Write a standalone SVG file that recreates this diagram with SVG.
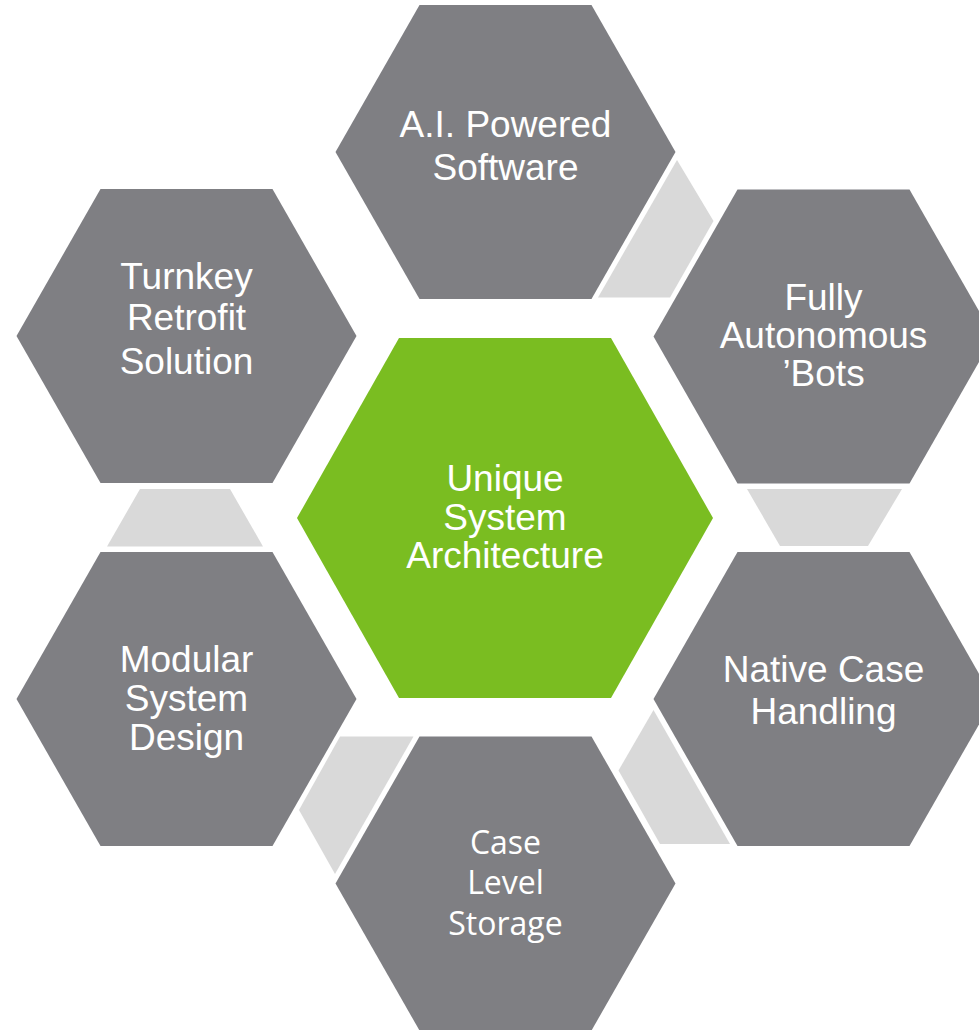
<svg xmlns="http://www.w3.org/2000/svg" width="979" height="1030" viewBox="0 0 979 1030">
<style>
.hex{fill:#7F7F83}
.core{fill:#7ABD21}
.conn{fill:#D9D9D9}
.t{font-family:"Liberation Sans",Arial,sans-serif;font-size:37px;fill:#FFFFFF;text-anchor:middle}
.c{font-family:"Open Sans","Noto Sans",sans-serif;font-size:32px;fill:#FFFFFF;text-anchor:middle}
</style>
<defs>
<polygon id="hexS" points="-170,0 -86,-147 86,-147 170,0 86,147 -86,147"/>
</defs>
<rect width="979" height="1030" fill="#FFFFFF"/>
<g id="connectors">
<polygon class="conn" points="677,160 713.5,221 670,297.5 598,297.5"/>
<polygon class="conn" points="747,489 902,489 868,546 780,546"/>
<polygon class="conn" points="653.5,710 618.5,770.5 660,844 730,844"/>
<polygon class="conn" points="340,736.5 413.5,736.5 335,874 299,810"/>
<polygon class="conn" points="140,489 230,489 263,546.5 107,546.5"/>
</g>
<g id="node-ai" transform="translate(505.5,152)">
<use href="#hexS" class="hex"/>
<text class="t" y="-15.5">A.I. Powered</text>
<text class="t" y="28">Software</text>
</g>
<g id="node-bots" transform="translate(823.5,336.5)">
<use href="#hexS" class="hex"/>
<text class="t" y="-26.5">Fully</text>
<text class="t" y="11">Autonomous</text>
<text class="t" y="49.5">’Bots</text>
</g>
<g id="node-native" transform="translate(823.5,699)">
<use href="#hexS" class="hex"/>
<text class="t" y="-17.5">Native Case</text>
<text class="t" y="25">Handling</text>
</g>
<g id="node-storage" transform="translate(505.5,883.5)">
<use href="#hexS" class="hex"/>
<text class="c" y="-30">Case</text>
<text class="c" y="10">Level</text>
<text class="c" y="51.5">Storage</text>
</g>
<g id="node-modular" transform="translate(186.5,699)">
<use href="#hexS" class="hex"/>
<text class="t" y="-27">Modular</text>
<text class="t" y="11.5">System</text>
<text class="t" y="50.5">Design</text>
</g>
<g id="node-turnkey" transform="translate(186.5,336)">
<use href="#hexS" class="hex"/>
<text class="t" y="-47.5">Turnkey</text>
<text class="t" y="-6">Retrofit</text>
<text class="t" y="37.5">Solution</text>
</g>
<g id="node-core" transform="translate(505,518)">
<polygon class="core" points="-208,0 -106,-180 106,-180 208,0 106,180 -106,180"/>
<text class="t" y="-27.5">Unique</text>
<text class="t" y="11.5">System</text>
<text class="t" y="49.5">Architecture</text>
</g>
</svg>
